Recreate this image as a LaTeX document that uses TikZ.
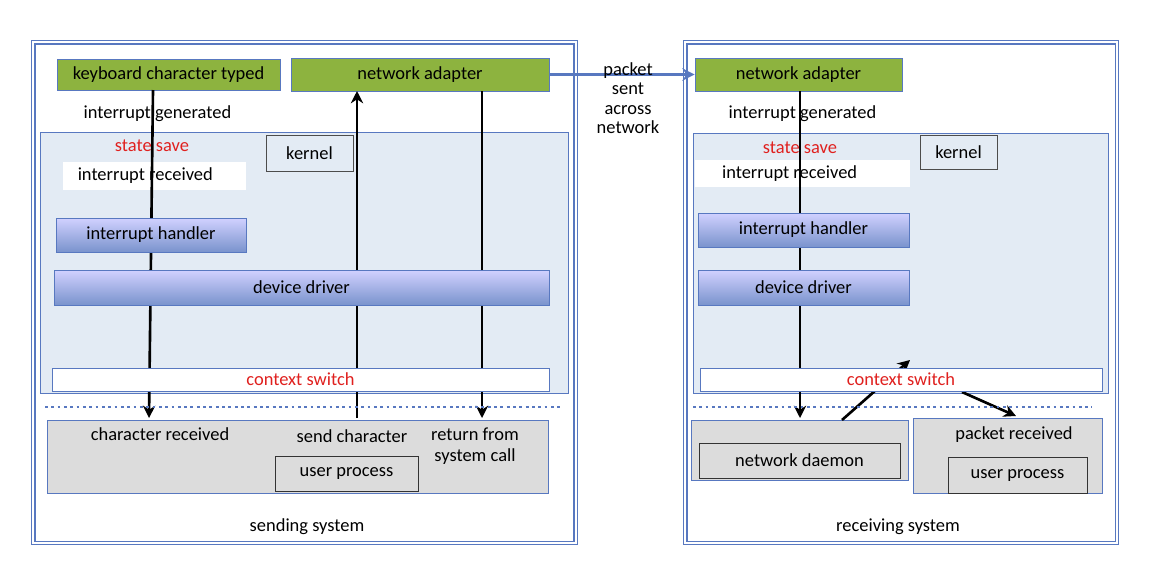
\documentclass[tikz,border=0pt]{standalone}
\usepackage{fontspec}
\setmainfont{Carlito}
\usetikzlibrary{positioning,calc,arrows.meta}
\definecolor{grn}{HTML}{8DB33F}
\definecolor{kblue}{HTML}{E3EBF4}
\definecolor{edge}{HTML}{5878C0}
\definecolor{ugray}{HTML}{DCDCDC}
\definecolor{ctxred}{HTML}{E0201E}
\tikzset{
  box/.style={draw=edge, inner sep=0pt, font=\fontsize{10.5}{12}\selectfont},
  greenbox/.style={box, fill=grn},
  whitebox/.style={box, draw=none, fill=white},
  region/.style={box, fill=kblue},
  bluebox/.style={box, top color=blue!18!white, bottom color=edge!80!white},
  graybox/.style={box, fill=ugray},
  plainbox/.style={box, draw=black!80, thick},
  outer/.style={draw=edge, double=white, double distance=1.2pt, line width=0.8pt, inner sep=0pt},
  flow/.style={line width=1.5pt, -{Stealth[length=7pt,width=7pt]}},
  lbl/.style={font=\fontsize{10.5}{12}\selectfont, inner sep=1pt},
}
\begin{document}
\begin{tikzpicture}[x=0.02cm,y=-0.02cm]
  \useasboundingbox (0,0) rectangle (1150,586);

  % sending system
  \node[outer, minimum width=10.86cm, minimum height=10.02cm] (sendsys) at (304.5,292.5) {};
  \node[region, minimum width=10.56cm, minimum height=5.22cm] (kernelL) at (304,262.5) {};
  \node[graybox, minimum width=10.02cm, minimum height=1.46cm] (userL) at (297.5,456.5) {};
  \node[greenbox, minimum width=4.46cm, minimum height=0.62cm] (kbd) at (168.5,74.5) {keyboard character typed};
  \node[greenbox, minimum width=5.16cm, minimum height=0.66cm] (netL) at (420,74.5) {network adapter};
  \node[whitebox, minimum width=4.58cm, minimum height=0.56cm] (igenL) at (168.5,114) {\hspace{-1.2em}interrupt generated};
  \node[lbl, text=ctxred] (ssaveL) at (152,146) {state save};
  \node[plainbox, draw=black!70, thin, minimum width=1.74cm, minimum height=0.72cm] (kboxL) at (309.5,153) {kernel};
  \node[whitebox, minimum width=3.66cm, minimum height=0.56cm] (irecL) at (154.5,176) {\hspace{-1em}interrupt received};
  \node[plainbox, thin, minimum width=2.86cm, minimum height=0.7cm] (uprocL) at (346.5,473.5) {user process};
  \node[lbl] (crecv) at (160,434) {character received};
  \node[lbl] (sendch) at (352,436) {send character};
  \node[lbl, align=center] (retsys) at (475,446) {return from\\system call};
  \node[lbl] at (307,527) {sending system};

  \coordinate (kbdbot) at (153,90);
  \coordinate (crecvtop) at (149,418);
  \coordinate (sendtop) at (357,418);
  \coordinate (netLin) at (357,91);
  \coordinate (netLout) at (482,91);
  \coordinate (rettop) at (482,418);
  \draw[flow] (kbdbot) -- (crecvtop);
  \draw[flow] (sendtop) -- (netLin);
  \draw[flow] (netLout) -- (rettop);

  \node[bluebox, minimum width=3.8cm, minimum height=0.68cm] (handL) at (151,235) {interrupt handler};
  \node[bluebox, minimum width=9.9cm, minimum height=0.7cm] (drvL) at (301.5,287.5) {device driver};
  \node[box, fill=white, minimum width=9.94cm, minimum height=0.46cm, text=ctxred] (ctxL) at (300.5,379.5) {context switch};
  \draw[edge, line width=1.6pt, dotted] (45,407) -- (560,407);

  % receiving system
  \node[outer, minimum width=8.64cm, minimum height=10.02cm] (recvsys) at (901,292.5) {};
  \node[region, minimum width=8.3cm, minimum height=5.2cm] (kernelR) at (900.5,263) {};
  \node[graybox, minimum width=4.34cm, minimum height=1.2cm] (userR1) at (799.5,450) {};
  \node[graybox, minimum width=3.78cm, minimum height=1.5cm] (userR2) at (1007.5,455.5) {};
  \node[greenbox, minimum width=4.14cm, minimum height=0.66cm] (netR) at (798.5,74.5) {network adapter};
  \node[whitebox, minimum width=4.3cm, minimum height=0.56cm] (igenR) at (802.5,114) {interrupt generated};
  \node[lbl, text=ctxred] (ssaveR) at (800,148) {state save};
  \node[plainbox, draw=black!70, thin, minimum width=1.54cm, minimum height=0.68cm] (kboxR) at (958.5,152) {kernel};
  \node[whitebox, minimum width=4.3cm, minimum height=0.54cm] (irecR) at (802.5,173.5) {\hspace{-1.4em}interrupt received};
  \node[plainbox, thin, minimum width=4.02cm, minimum height=0.7cm] (daemon) at (799.5,460.5) {network daemon};
  \node[plainbox, thin, minimum width=2.78cm, minimum height=0.72cm] (uprocR) at (1017.5,475) {user process};
  \node[lbl] (precv) at (1014,435) {packet received};
  \node[lbl] at (898,527) {receiving system};

  \coordinate (netRbot) at (800,91);
  \coordinate (daemontop) at (800,418);
  \coordinate (daemonout) at (842,420);
  \coordinate (ctxin) at (910,360);
  \coordinate (ctxout) at (962,392);
  \coordinate (precvtop) at (1016,416);
  \draw[flow] (netRbot) -- (daemontop);
  \draw[flow] (daemonout) -- (ctxin);
  \draw[flow] (ctxout) -- (precvtop);

  \node[bluebox, minimum width=4.22cm, minimum height=0.68cm] (handR) at (803.5,230) {interrupt handler};
  \node[bluebox, minimum width=4.22cm, minimum height=0.7cm] (drvR) at (803.5,287.5) {device driver};
  \node[box, fill=white, minimum width=8.04cm, minimum height=0.46cm, text=ctxred] (ctxR) at (901,379.5) {context switch};
  \draw[edge, line width=1.6pt, dotted] (693,407) -- (1092,407);

  % network link
  \draw[edge, line width=1.5pt, -{Stealth[length=7pt,width=7pt]}] (netL.east) -- (netR.west);
  \node[lbl, align=center] (pkt) at (628,98) {packet\\[-1pt]sent\\[-1pt]across\\[-1pt]network};
\end{tikzpicture}
\end{document}
